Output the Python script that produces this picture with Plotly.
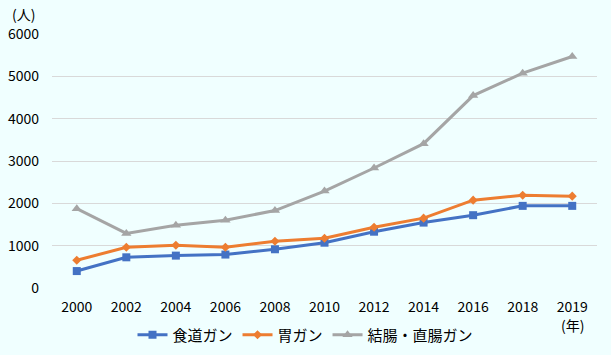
import plotly.graph_objects as go

years = ["2000", "2002", "2004", "2006", "2008", "2010", "2012", "2014", "2016", "2018", "2019"]
esophageal = [400, 725, 765, 790, 915, 1070, 1330, 1545, 1720, 1940, 1940]
stomach = [655, 962, 1010, 962, 1105, 1175, 1435, 1650, 2075, 2190, 2170]
colorectal = [1875, 1290, 1480, 1600, 1830, 2290, 2835, 3410, 4546, 5075, 5468]
names = ["食道ガン", "胃ガン", "結腸・直腸ガン"]
y_ticks = [0, 1000, 2000, 3000, 4000, 5000, 6000]

FONT = "Noto Sans CJK JP"
BG = "#F0FFFF"
fig = go.Figure()
fig.add_trace(go.Scatter(x=years, y=esophageal, name=names[0], mode="lines+markers",
                         line=dict(color="#4472C4", width=3),
                         marker=dict(symbol="square", size=8, color="#4472C4")))
fig.add_trace(go.Scatter(x=years, y=stomach, name=names[1], mode="lines+markers",
                         line=dict(color="#ED7D31", width=3),
                         marker=dict(symbol="diamond", size=7, color="#ED7D31")))
fig.add_trace(go.Scatter(x=years, y=colorectal, name=names[2], mode="lines+markers",
                         line=dict(color="#A5A5A5", width=3),
                         marker=dict(symbol="triangle-up", size=9, color="#A5A5A5")))

fig.update_layout(
    width=611, height=355,
    paper_bgcolor=BG, plot_bgcolor=BG,
    margin=dict(l=52, r=14, t=34, b=67, autoexpand=False),
    font=dict(family=FONT, size=14, color="#000000"),
    xaxis=dict(type="category", categoryorder="array", categoryarray=years,
               range=[-0.5, len(years) - 0.5],
               automargin=False, showgrid=False, showline=False, zeroline=False,
               ticks="", ticklabelstandoff=9, tickfont=dict(size=14, family=FONT)),
    yaxis=dict(range=[0, 6000], tickvals=y_ticks, showgrid=True, gridcolor="#D9D9D9",
               automargin=False, gridwidth=1, zeroline=False, showline=False, ticks="",
               ticklabelstandoff=12, tickfont=dict(size=14, family=FONT)),
    legend=dict(orientation="h", xref="container", x=0.5, xanchor="center",
                y=-0.12, yanchor="top",
                font=dict(size=15, family=FONT), bgcolor="rgba(0,0,0,0)",
                tracegroupgap=0),
    showlegend=True,
)
fig.add_annotation(text="(人)", xref="paper", yref="paper", x=-0.052, y=1.0,
                   xanchor="center", yanchor="middle", yshift=20, showarrow=False,
                   font=dict(size=14, family=FONT))
fig.add_annotation(text="(年)", xref="x", yref="paper", x=len(years) - 1, y=0,
                   xanchor="center", yanchor="middle", yshift=-37, showarrow=False,
                   font=dict(size=14, family=FONT))

fig.write_html("out.html", config={"displayModeBar": False},
               post_script="document.body.style.margin='0';document.body.style.background='" + BG + "';")
